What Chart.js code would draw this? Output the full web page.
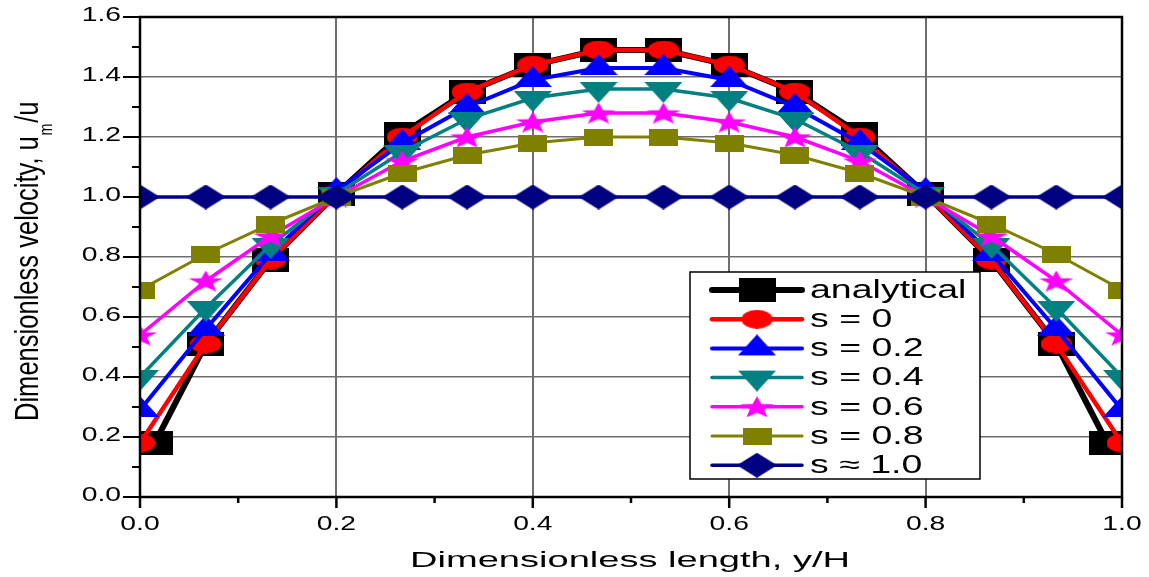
<!DOCTYPE html>
<html lang="en">
<head>
  <meta charset="UTF-8">
  <title>Dimensionless velocity profiles</title>
  <script src="https://cdn.jsdelivr.net/npm/chart.js"></script>
  <style>
    html, body {
      margin: 0;
      padding: 0;
      background: #fff;
      overflow: hidden;
    }
    .chart-container {
      position: relative;
      width: 1149px;
      height: 577px;
    }
  </style>
</head>
<body>
  <div class="chart-container">
    <canvas id="velocityChart"></canvas>
  </div>

  <script>
    // data
    const positions = [0.0, 0.067, 0.133, 0.2, 0.267, 0.333, 0.4, 0.467, 0.533, 0.6, 0.667, 0.733, 0.8, 0.867, 0.933, 1.0];
    const analyticalPositions = [0.015, 0.067, 0.133, 0.2, 0.267, 0.333, 0.4, 0.467, 0.533, 0.6, 0.667, 0.733, 0.8, 0.867, 0.933, 0.985];
    const analytical = [0.18, 0.51, 0.79, 1.01, 1.21, 1.35, 1.44, 1.49, 1.49, 1.44, 1.35, 1.21, 1.01, 0.79, 0.51, 0.18];
    const slip00 = [0.18, 0.51, 0.79, 1.01, 1.20, 1.35, 1.44, 1.49, 1.49, 1.44, 1.35, 1.20, 1.01, 0.79, 0.51, 0.18];
    const slip02 = [0.29, 0.56, 0.81, 1.02, 1.18, 1.30, 1.39, 1.43, 1.43, 1.39, 1.30, 1.18, 1.02, 0.81, 0.56, 0.29];
    const slip04 = [0.40, 0.63, 0.84, 1.01, 1.15, 1.26, 1.33, 1.36, 1.36, 1.33, 1.26, 1.15, 1.01, 0.84, 0.63, 0.40];
    const slip06 = [0.54, 0.72, 0.87, 1.00, 1.12, 1.20, 1.25, 1.28, 1.28, 1.25, 1.20, 1.12, 1.00, 0.87, 0.72, 0.54];
    const slip08 = [0.69, 0.81, 0.91, 1.00, 1.08, 1.14, 1.18, 1.20, 1.20, 1.18, 1.14, 1.08, 1.00, 0.91, 0.81, 0.69];
    const slip10 = [1.0, 1.0, 1.0, 1.0, 1.0, 1.0, 1.0, 1.0, 1.0, 1.0, 1.0, 1.0, 1.0, 1.0, 1.0, 1.0];

    const seriesLabels = ['analytical', 's = 0', 's = 0.2', 's = 0.4', 's = 0.6', 's = 0.8', 's \u2248 1.0'];
    const xTickLabels = ['0.0', '0.2', '0.4', '0.6', '0.8', '1.0'];
    const yTickLabels = ['0.0', '0.2', '0.4', '0.6', '0.8', '1.0', '1.2', '1.4', '1.6'];
    const xTitle = 'Dimensionless length, y/H';

    const FONT = '"Liberation Sans", Arial, sans-serif';

    // markers are wider than tall in the original figure
    function makeMarker(shape, w, h, color) {
      const c = document.createElement('canvas');
      let ch = h;
      if (shape === 'triUp' || shape === 'triDown') ch = Math.round(h * 4 / 3);
      c.width = w;
      c.height = ch;
      const g = c.getContext('2d');
      g.fillStyle = color;
      g.beginPath();
      if (shape === 'rect') {
        g.rect(0, 0, w, h);
      } else if (shape === 'ellipse') {
        g.ellipse(w / 2, h / 2, w / 2, h / 2, 0, 0, Math.PI * 2);
      } else if (shape === 'triUp') {
        g.moveTo(w / 2, 0); g.lineTo(w, h); g.lineTo(0, h);
      } else if (shape === 'triDown') {
        const o = ch - h;
        g.moveTo(0, o); g.lineTo(w, o); g.lineTo(w / 2, ch);
      } else if (shape === 'diamond') {
        g.moveTo(w / 2, 0); g.lineTo(w, h / 2); g.lineTo(w / 2, h); g.lineTo(0, h / 2);
      } else if (shape === 'star') {
        const sx = w / 1.902, sy = h / 1.809;
        for (let i = 0; i < 10; i++) {
          const a = -Math.PI / 2 + i * Math.PI / 5;
          const r = i % 2 === 0 ? 1 : 0.42;
          const px = w / 2 + sx * r * Math.cos(a);
          const py = sy * (1 + r * Math.sin(a));
          if (i === 0) g.moveTo(px, py); else g.lineTo(px, py);
        }
      }
      g.closePath();
      g.fill();
      return c;
    }

    const colors = ['#000000', '#FF0000', '#0000FF', '#008080', '#FF00FF', '#808000', '#000080'];
    const widths = [6, 4.5, 4, 3.5, 3.5, 3, 3.5];
    const markers = [
      makeMarker('rect', 37, 24, colors[0]),
      makeMarker('ellipse', 31, 19, colors[1]),
      makeMarker('triUp', 38, 21, colors[2]),
      makeMarker('triDown', 38, 21, colors[3]),
      makeMarker('star', 34, 21, colors[4]),
      makeMarker('rect', 29, 17, colors[5]),
      makeMarker('diamond', 40, 25, colors[6])
    ];
    const seriesValues = [analytical, slip00, slip02, slip04, slip06, slip08, slip10];

    function toPoints(xs, ys) {
      return xs.map((x, i) => ({ x: x, y: ys[i] }));
    }

    function isMajor(v) {
      return Math.abs(v * 5 - Math.round(v * 5)) < 1e-6;
    }

    // text with horizontal stretch, like the source image
    function stretchText(ctx, text, x, y, font, sx, align, baseline) {
      ctx.save();
      ctx.font = font;
      ctx.textAlign = align;
      ctx.textBaseline = baseline;
      ctx.translate(x, y);
      ctx.scale(sx, 1);
      ctx.fillText(text, 0, 0);
      ctx.restore();
    }

    const decorPlugin = {
      id: 'decor',
      afterDatasetsDraw(chart) {
        const ctx = chart.ctx;
        const area = chart.chartArea;
        const xs = chart.scales.x;
        const ys = chart.scales.y;
        ctx.save();
        ctx.fillStyle = '#000';
        ctx.strokeStyle = '#000';

        // frame
        ctx.lineWidth = 2.5;
        ctx.strokeRect(area.left, area.top, area.right - area.left, area.bottom - area.top);

        // tick marks (major + minor), pointing outwards
        ctx.lineWidth = 2.5;
        xs.ticks.forEach(t => {
          const px = xs.getPixelForValue(t.value);
          const len = isMajor(t.value) ? 11 : 6;
          ctx.beginPath();
          ctx.moveTo(px, area.bottom);
          ctx.lineTo(px, area.bottom + len);
          ctx.stroke();
        });
        ctx.lineWidth = 2;
        ys.ticks.forEach(t => {
          const py = ys.getPixelForValue(t.value);
          const len = isMajor(t.value) ? 17 : 8;
          ctx.beginPath();
          ctx.moveTo(area.left - len, py);
          ctx.lineTo(area.left, py);
          ctx.stroke();
        });

        // tick labels
        xTickLabels.forEach(lbl => {
          const px = xs.getPixelForValue(parseFloat(lbl));
          stretchText(ctx, lbl, px, area.bottom + 33, '19.5px ' + FONT, 1.45, 'center', 'alphabetic');
        });
        yTickLabels.forEach(lbl => {
          const py = ys.getPixelForValue(parseFloat(lbl));
          stretchText(ctx, lbl, area.left - 19, py - 1, '19.5px ' + FONT, 1.45, 'right', 'middle');
        });

        // x title, fitted to its width in the figure
        ctx.font = '22px ' + FONT;
        const xw = ctx.measureText(xTitle).width;
        stretchText(ctx, xTitle, (area.left + area.right) / 2 - 1, 567, '22px ' + FONT, 440 / xw, 'center', 'alphabetic');

        // y title with subscript m (condensed along the text)
        const mainPart = 'Dimensionless velocity, u';
        ctx.font = '34px ' + FONT;
        const w1 = ctx.measureText(mainPart).width;
        const w3 = ctx.measureText('/u').width;
        ctx.font = '19px ' + FONT;
        const w2 = ctx.measureText('m').width;
        const k = 318 / (w1 + w2 + w3);
        ctx.save();
        ctx.translate(38, 421);
        ctx.rotate(-Math.PI / 2);
        ctx.scale(k, 1);
        ctx.textAlign = 'left';
        ctx.textBaseline = 'alphabetic';
        ctx.font = '34px ' + FONT;
        ctx.fillText(mainPart, 0, 0);
        ctx.font = '19px ' + FONT;
        ctx.fillText('m', w1 + 1, 14);
        ctx.font = '34px ' + FONT;
        ctx.fillText('/u', w1 + w2 + 2, 0);
        ctx.restore();

        // legend box
        const lx = 690, ly = 272, lw = 290, lh = 207;
        ctx.fillStyle = '#fff';
        ctx.fillRect(lx, ly, lw, lh);
        ctx.lineWidth = 1.5;
        ctx.strokeStyle = '#000';
        ctx.strokeRect(lx, ly, lw, lh);
        seriesLabels.forEach((lbl, i) => {
          const cy = 290 + i * 29.2;
          ctx.strokeStyle = colors[i];
          ctx.lineWidth = widths[i];
          ctx.lineCap = 'round';
          ctx.beginPath();
          ctx.moveTo(712, cy);
          ctx.lineTo(802, cy);
          ctx.stroke();
          const m = markers[i];
          ctx.drawImage(m, 757 - m.width / 2, cy - m.height / 2);
          ctx.fillStyle = '#000';
          stretchText(ctx, lbl, 810, cy + 1, '25px ' + FONT, 1.5, 'left', 'middle');
        });
        ctx.restore();
      }
    };

    document.addEventListener('DOMContentLoaded', function() {
      const ctx = document.getElementById('velocityChart').getContext('2d');

      const datasets = seriesLabels.map((lbl, i) => ({
        label: lbl,
        data: toPoints(i === 0 ? analyticalPositions : positions, seriesValues[i]),
        borderColor: colors[i],
        backgroundColor: colors[i],
        borderWidth: widths[i],
        pointStyle: markers[i],
        pointRadius: 10,
        pointHoverRadius: 10,
        tension: 0,
        clip: 0,
        order: seriesLabels.length - i
      }));

      const config = {
        type: 'line',
        data: { datasets: datasets },
        options: {
          responsive: true,
          maintainAspectRatio: false,
          animation: false,
          layout: {
            padding: { left: 140, right: 27, top: 17, bottom: 80 }
          },
          scales: {
            x: {
              type: 'linear',
              min: 0,
              max: 1,
              ticks: { stepSize: 0.1, display: false },
              border: { display: false },
              grid: {
                drawTicks: false,
                lineWidth: 2,
                color: c => (c.tick && isMajor(c.tick.value) ? '#6e6e6e' : 'rgba(0,0,0,0)')
              }
            },
            y: {
              type: 'linear',
              min: 0,
              max: 1.6,
              ticks: { stepSize: 0.1, display: false },
              border: { display: false },
              grid: {
                drawTicks: false,
                lineWidth: 1.5,
                color: c => (c.tick && isMajor(c.tick.value) ? '#6e6e6e' : 'rgba(0,0,0,0)')
              }
            }
          },
          plugins: {
            legend: { display: false },
            tooltip: { enabled: false }
          }
        },
        plugins: [decorPlugin]
      };

      new Chart(ctx, config);
    });
  </script>
</body>
</html>
